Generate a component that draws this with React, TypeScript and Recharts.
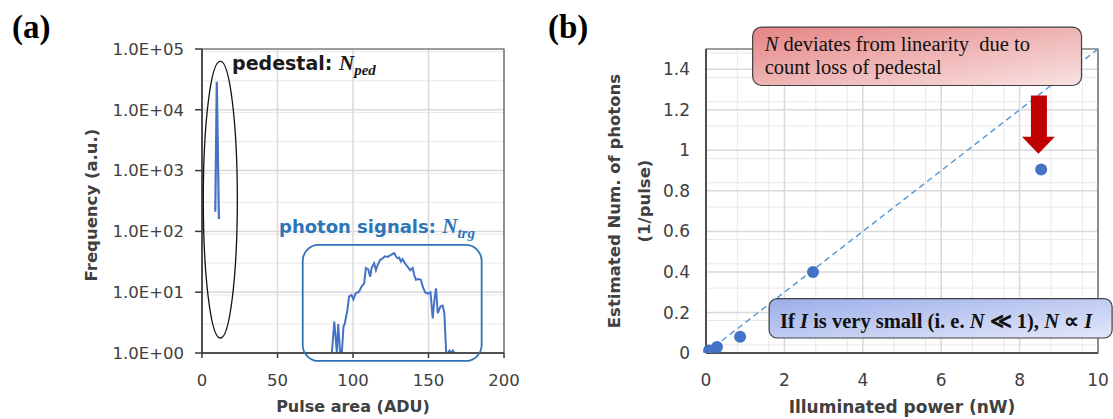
import React from "react";
import {
  LineChart,
  Line,
  ComposedChart,
  Scatter,
  XAxis,
  YAxis,
  CartesianGrid,
  ReferenceArea,
  ReferenceDot,
  Label,
} from "recharts";

const FONT = "'DejaVu Sans', Verdana, sans-serif";
const SERIF = "'Liberation Serif', 'Times New Roman', serif";
const BLUE = "#4472C4";
const TEXT_BLUE = "#2E75B6";
const FIT_BLUE = "#5B9BD5";
const AXIS = "#404040";
const GRID = "#D9D9D9";
const MINOR = "#E8E8E8";

// ─── (a) pulse area histogram ────────────────────────────────────────────────

const pedestalArea = [8.8, 9.8, 11.2];
const pedestalFreq = [210, 29000, 160];

const photonArea = [
  86, 87.6, 89.3, 90.2, 91.5, 92.6, 93.7, 94.5, 96.3, 97.4, 99, 100.3, 101.8, 104, 105.6,
  107.4, 108.5, 110, 111.4, 112.3, 114, 115.2, 116.3, 118, 119.6, 121.1, 122.9, 125.1,
  127.3, 128.4, 129.5, 130.6, 131.7, 132.8, 134.4, 136.2, 137.9, 139.5, 140.6, 141.7,
  143.3, 145, 146.2, 147.7, 149.5, 151.3, 152.8, 153.9, 155, 156.1, 157.9, 159.4, 160.5,
  161.7, 162.8, 163.9, 165, 166.1, 167.2,
];
const photonFreq = [
  1, 3.3, 1, 3, 1, 1, 2.7, 3, 5.1, 8.5, 9, 7.6, 9.6, 10.2, 12.3, 14, 25, 24, 18, 25, 30, 23,
  28, 34, 36, 39, 38, 41, 44, 39, 36, 37, 32, 35, 30, 26, 23, 25, 19, 16, 16.5, 16, 12.3, 10,
  9.5, 10, 3.7, 7.5, 11.6, 4.5, 5.8, 6, 4.5, 1, 1, 1.1, 1, 1.1, 1,
];

const areaTicks = [0, 50, 100, 150, 200];
const freqTicks = [1, 10, 100, 1000, 10000, 100000];
const freqMinor = [1, 10, 100, 1000, 10000].flatMap((d) => [2, 3, 4, 5, 6, 7, 8, 9].map((m) => m * d));

// ─── (b) estimated photons vs power ──────────────────────────────────────────

const powerNW = [0.08, 0.28, 0.87, 2.73, 8.55];
const photonsPerPulse = [0.012, 0.03, 0.08, 0.4, 0.905];
const fitPower = [0, 10];
const fitPhotons = [0, 1.5];

const powerTicks = [0, 2, 4, 6, 8, 10];
const photonTicks = [0, 0.2, 0.4, 0.6, 0.8, 1, 1.2, 1.4];
const powerMinor = [0.4, 0.8, 1.2, 1.6, 2.4, 2.8, 3.2, 3.6, 4.4, 4.8, 5.2, 5.6, 6.4, 6.8, 7.2, 7.6, 8.4, 8.8, 9.2, 9.6];
const photonMinor = [
  0.04, 0.08, 0.12, 0.16, 0.24, 0.28, 0.32, 0.36, 0.44, 0.48, 0.52, 0.56, 0.64, 0.68, 0.72,
  0.76, 0.84, 0.88, 0.92, 0.96, 1.04, 1.08, 1.12, 1.16, 1.24, 1.28, 1.32, 1.36, 1.44, 1.48,
];

const pedestalData = pedestalArea.map((x, i) => ({ x, y: pedestalFreq[i] }));
const photonData = photonArea.map((x, i) => ({ x, y: photonFreq[i] }));
const scatterData = powerNW.map((x, i) => ({ x, y: photonsPerPulse[i] }));
const fitData = fitPower.map((x, i) => ({ x, y: fitPhotons[i] }));

const expLabel = (v: number) => {
  const e = Math.round(Math.log10(v));
  return `1.0E+${String(e).padStart(2, "0")}`;
};

const TOP = 1000;

function HistogramChart() {
  const tickStyle = { fontSize: 16.5, fill: AXIS, fontFamily: FONT };
  return (
    <LineChart width={540} height={419} margin={{ top: 49, right: 36, bottom: 0, left: 0 }}>
      <CartesianGrid stroke={MINOR} strokeWidth={1} vertical={false} horizontalValues={freqMinor} />
      <CartesianGrid stroke={GRID} strokeWidth={1.5} />
      <XAxis
        type="number"
        dataKey="x"
        domain={[0, 200]}
        ticks={areaTicks}
        height={66}
        tick={tickStyle}
        tickSize={5}
        tickMargin={16}
        stroke="#3a3a3a"
        strokeWidth={1.5}
      >
        <Label
          value="Pulse area (ADU)"
          position="insideBottom"
          offset={7}
          style={{ fontSize: 16, fontWeight: "bold", fill: AXIS, fontFamily: FONT }}
        />
      </XAxis>
      <YAxis
        type="number"
        dataKey="y"
        scale="log"
        domain={[1, 100000]}
        ticks={freqTicks}
        allowDataOverflow
        width={202}
        tick={tickStyle}
        tickFormatter={expLabel}
        tickSize={7}
        tickMargin={11}
        stroke="#3a3a3a"
        strokeWidth={1.5}
      >
        <Label
          content={(props: any) => {
            const vb = props.viewBox || {};
            const cy = (vb.y ?? 49) + (vb.height ?? 304) / 2 + 4;
            return (
              <text
                x={91}
                y={cy}
                transform={`rotate(-90, 91, ${cy})`}
                textAnchor="middle"
                dominantBaseline="central"
                style={{ fontSize: 16.5, fontWeight: "bold", fill: AXIS, fontFamily: FONT }}
              >
                Frequency (a.u.)
              </text>
            );
          }}
        />
      </YAxis>
      <ReferenceArea x1={0} x2={200} y1={1} y2={100000} fill="none" stroke="#595959" strokeWidth={1.2} />
      <Line data={pedestalData} dataKey="y" stroke={BLUE} strokeWidth={2.2} dot={false} isAnimationActive={false} />
      <Line data={photonData} dataKey="y" stroke={BLUE} strokeWidth={2} dot={false} isAnimationActive={false} />
      <ReferenceArea
        x1={0.86}
        x2={23.4}
        y1={1.75}
        y2={63000}
        ifOverflow="visible"
        zIndex={TOP}
        shape={(p: any) => (
          <ellipse
            cx={p.x + p.width / 2}
            cy={p.y + p.height / 2}
            rx={p.width / 2}
            ry={p.height / 2}
            fill="none"
            stroke="#111"
            strokeWidth={1.3}
          />
        )}
      />
      <ReferenceArea
        x1={66.7}
        x2={185.2}
        y1={0.74}
        y2={60}
        ifOverflow="visible"
        zIndex={TOP}
        shape={(p: any) => (
          <rect x={p.x} y={p.y} width={p.width} height={p.height} rx={16} fill="none" stroke={TEXT_BLUE} strokeWidth={1.8} />
        )}
      />
      <ReferenceDot
        x={19.9}
        y={46000}
        ifOverflow="visible"
        zIndex={TOP}
        shape={(p: any) => (
          <text x={p.cx} y={p.cy} style={{ fontSize: 19, fontWeight: "bold", fill: "#1a1a1a", fontFamily: FONT }}>
            pedestal:{" "}
            <tspan style={{ fontFamily: SERIF, fontStyle: "italic", fontSize: 21 }}>N</tspan>
            <tspan dy={5} style={{ fontFamily: SERIF, fontStyle: "italic", fontSize: 15 }}>ped</tspan>
          </text>
        )}
      />
      <ReferenceDot
        x={51}
        y={95}
        ifOverflow="visible"
        zIndex={TOP}
        shape={(p: any) => (
          <text x={p.cx} y={p.cy} style={{ fontSize: 18, fontWeight: "bold", fill: TEXT_BLUE, fontFamily: FONT }}>
            photon signals:{" "}
            <tspan style={{ fontFamily: SERIF, fontStyle: "italic", fontSize: 21 }}>N</tspan>
            <tspan dy={5} style={{ fontFamily: SERIF, fontStyle: "italic", fontSize: 15 }}>trg</tspan>
          </text>
        )}
      />
    </LineChart>
  );
}

function LinearityChart() {
  const tickStyle = { fontSize: 17, fill: AXIS, fontFamily: FONT };
  return (
    <ComposedChart width={573} height={419} margin={{ top: 49, right: 15, bottom: 0, left: 0 }}>
      <CartesianGrid stroke={MINOR} strokeWidth={1} horizontalValues={photonMinor} verticalValues={powerMinor} />
      <CartesianGrid stroke={GRID} strokeWidth={1.5} />
      <XAxis
        type="number"
        dataKey="x"
        domain={[0, 10]}
        ticks={powerTicks}
        height={66}
        tick={tickStyle}
        tickLine={false}
        tickSize={0}
        tickMargin={21}
        stroke="#3a3a3a"
        strokeWidth={1.5}
      >
        <Label
          value="Illuminated power (nW)"
          position="insideBottom"
          offset={6}
          style={{ fontSize: 17, fontWeight: "bold", fill: AXIS, fontFamily: FONT }}
        />
      </XAxis>
      <YAxis
        type="number"
        dataKey="y"
        domain={[0, 1.5]}
        ticks={photonTicks}
        allowDataOverflow
        width={166}
        tick={tickStyle}
        tickLine={false}
        tickSize={0}
        tickMargin={16}
        stroke="#3a3a3a"
        strokeWidth={1.5}
      >
        <Label
          content={(props: any) => {
            const vb = props.viewBox || {};
            const cy = (vb.y ?? 49) + (vb.height ?? 304) / 2;
            const style = { fontSize: 16.5, fontWeight: "bold" as const, fill: AXIS, fontFamily: FONT };
            return (
              <g>
                <text x={74} y={cy} transform={`rotate(-90, 74, ${cy})`} textAnchor="middle" dominantBaseline="central" style={style}>
                  Estimated Num. of photons
                </text>
                <text x={104} y={cy} transform={`rotate(-90, 104, ${cy})`} textAnchor="middle" dominantBaseline="central" style={style}>
                  (1/pulse)
                </text>
              </g>
            );
          }}
        />
      </YAxis>
      <ReferenceArea x1={0} x2={10} y1={0} y2={1.5} fill="none" stroke="#595959" strokeWidth={1.2} />
      <Line
        data={fitData}
        dataKey="y"
        stroke={FIT_BLUE}
        strokeWidth={1.5}
        strokeDasharray="6 4"
        dot={false}
        isAnimationActive={false}
      />
      <Scatter
        data={scatterData}
        dataKey="y"
        fill={BLUE}
        isAnimationActive={false}
        shape={(p: any) => <circle cx={p.cx} cy={p.cy} r={6} fill={BLUE} />}
      />
      <ReferenceArea
        x1={1.19}
        x2={9.58}
        y1={1.32}
        y2={1.608}
        ifOverflow="visible"
        zIndex={TOP}
        shape={(p: any) => (
          <g>
            <defs>
              <linearGradient id="redBox" x1="0" y1="0" x2="1" y2="1">
                <stop offset="0%" stopColor="#E58585" />
                <stop offset="100%" stopColor="#F9E2E2" />
              </linearGradient>
            </defs>
            <rect x={p.x} y={p.y} width={p.width} height={p.height} rx={9} fill="url(#redBox)" stroke="#404040" strokeWidth={1.2} />
            <text x={p.x + 12} y={p.y + 24} style={{ fontSize: 20.5, fill: "#111", fontFamily: SERIF, whiteSpace: "pre" }}>
              <tspan style={{ fontStyle: "italic" }}>N</tspan> deviates from linearity  due to
            </text>
            <text x={p.x + 12} y={p.y + 47} style={{ fontSize: 20.5, fill: "#111", fontFamily: SERIF }}>
              count loss of pedestal
            </text>
          </g>
        )}
      />
      <ReferenceArea
        x1={8.06}
        x2={8.9}
        y1={0.983}
        y2={1.27}
        ifOverflow="visible"
        zIndex={TOP}
        shape={(p: any) => {
          const l = p.x + (p.width * 9) / 33;
          const r = p.x + (p.width * 25) / 33;
          const hy = p.y + (p.height * 41) / 58;
          const pts = [
            [l, p.y],
            [r, p.y],
            [r, hy],
            [p.x + p.width, hy],
            [p.x + p.width / 2, p.y + p.height],
            [p.x, hy],
            [l, hy],
          ]
            .map((q) => q.join(","))
            .join(" ");
          return <polygon points={pts} fill="#C00000" />;
        }}
      />
      <ReferenceArea
        x1={1.61}
        x2={10.36}
        y1={0.074}
        y2={0.268}
        ifOverflow="visible"
        zIndex={TOP}
        shape={(p: any) => (
          <g>
            <defs>
              <linearGradient id="blueBox" x1="0" y1="0" x2="1" y2="1">
                <stop offset="0%" stopColor="#9CAEEA" />
                <stop offset="100%" stopColor="#E3E8F9" />
              </linearGradient>
            </defs>
            <rect x={p.x} y={p.y} width={p.width} height={p.height} rx={8} fill="url(#blueBox)" stroke="#404040" strokeWidth={1.2} />
            <text x={p.x + 11} y={p.y + 29} style={{ fontSize: 20.5, fontWeight: "bold", fill: "#111", fontFamily: SERIF }}>
              If <tspan style={{ fontStyle: "italic" }}>I</tspan> is very small (i. e. <tspan style={{ fontStyle: "italic" }}>N</tspan> ≪ 1),{" "}
              <tspan style={{ fontStyle: "italic" }}>N</tspan> ∝ <tspan style={{ fontStyle: "italic" }}>I</tspan>
            </text>
          </g>
        )}
      />
    </ComposedChart>
  );
}

export default function App() {
  return (
    <div style={{ position: "absolute", left: 0, top: 0, width: 1113, height: 419, background: "#fff", fontFamily: FONT }}>
      <div style={{ position: "absolute", left: 0, top: 0 }}>
        <HistogramChart />
      </div>
      <div style={{ position: "absolute", left: 540, top: 0 }}>
        <LinearityChart />
      </div>
      <svg width={1113} height={60} style={{ position: "absolute", left: 0, top: 0, pointerEvents: "none" }}>
        <text x={12} y={38} style={{ fontSize: 33, fontWeight: "bold", fontFamily: SERIF, fill: "#000" }}>
          (a)
        </text>
        <text x={548} y={38} style={{ fontSize: 33, fontWeight: "bold", fontFamily: SERIF, fill: "#000" }}>
          (b)
        </text>
      </svg>
    </div>
  );
}
